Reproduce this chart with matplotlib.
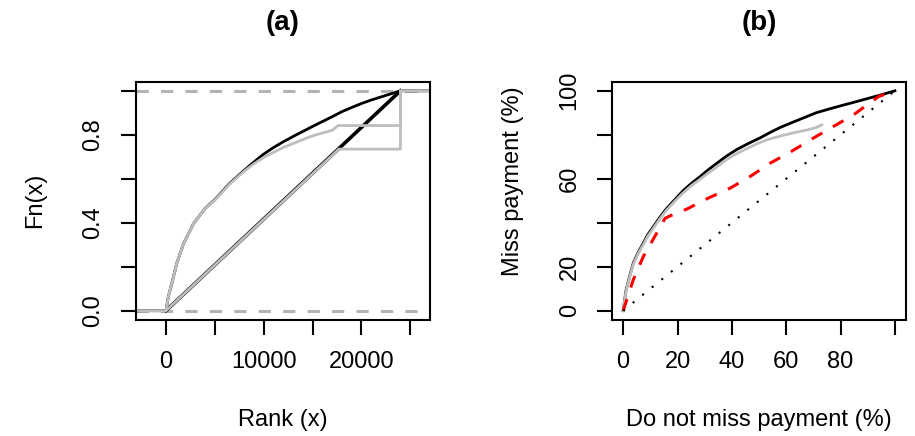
import numpy as np
import matplotlib
matplotlib.use('Agg')
import matplotlib.pyplot as plt

plt.rcParams['font.family'] = ['Liberation Sans', 'DejaVu Sans']

# ---- panel (a): empirical CDFs of rank ----
rank_max = 24000
rank_black = [0, 250, 600, 1100, 1800, 2800, 4000, 5000, 6500, 8000, 9000, 10000, 11000, 12000,
              13000, 14000, 15000, 16000, 17000, 18000, 19000, 20000, 21000, 22000, 23000, 24000]
fn_black = [0, 0.065, 0.125, 0.215, 0.305, 0.395, 0.465, 0.505, 0.578, 0.638, 0.676, 0.712, 0.742, 0.768,
            0.792, 0.815, 0.838, 0.860, 0.882, 0.905, 0.924, 0.942, 0.958, 0.972, 0.986, 1.0]
rank_gray = [0, 250, 600, 1100, 1800, 2800, 4000, 5000, 6500, 8000, 9000, 10000, 11000, 12000,
             13000, 14000, 15000, 16000, 17000, 17636]
fn_gray = [0, 0.065, 0.125, 0.215, 0.305, 0.395, 0.465, 0.503, 0.575, 0.634, 0.668, 0.697, 0.720, 0.742,
           0.760, 0.778, 0.795, 0.808, 0.820, 0.842]
rank_diag_black = [0, 24000]
fn_diag_black = [0, 1.0]
rank_diag_gray = [0, 17700]
fn_diag_gray = [0, 0.735]

# ---- panel (b): ROC-type curves (%) ----
nomiss_black = [0, 1, 2, 3.7, 5.5, 7.4, 9, 11.1, 13.5, 16, 19, 22, 25, 28.3, 31, 34.4, 38, 41.8,
                46, 50.4, 54, 57.7, 62, 66, 71, 76, 81, 85, 90, 95, 100]
miss_black = [0, 9, 14, 21.6, 26.5, 30.7, 34.5, 38.2, 42.5, 46.5, 50.5, 54.5, 57.8, 61, 63.8, 67, 70.3, 73.3,
              76, 78.6, 81, 83.3, 85.5, 87.5, 90, 91.8, 93.5, 94.8, 96.5, 98.2, 100]
nomiss_gray = [0, 1, 2, 3.7, 5.5, 7.4, 9, 11.1, 13.5, 16, 19, 22, 25, 28.3, 31, 34.4, 37.5, 40.5,
               43.5, 46.5, 50, 53, 56, 59, 62, 65, 68, 71, 73.1]
miss_gray = [0, 8.6, 13.6, 21, 26, 30, 33.8, 37.5, 41.8, 45.8, 49.8, 53.5, 56.8, 59.8, 62.3, 65.3, 68.3, 70.6,
             72.5, 74.3, 76.3, 77.7, 78.8, 79.8, 80.7, 81.5, 82.3, 83.3, 84.5]
nomiss_red = [0, 3.7, 7.4, 12.3, 15.4, 17.2, 23.4, 31.3, 39.3, 46.7, 54.1, 62.0, 70.0, 77.4, 84.8, 94.0, 100]
miss_red = [0, 14.0, 24.6, 35.2, 42.0, 43.1, 46.2, 51.2, 55.7, 61.0, 67.1, 72.5, 78.5, 83.8, 89.1, 97.4, 100]
diag = [0, 100]

xticks_a = [0, 5000, 10000, 15000, 20000, 25000]
xlabels_a = ['0', '', '10000', '', '20000', '']
yticks_a = [0, 0.2, 0.4, 0.6, 0.8, 1.0]
ylabels_a = ['0.0', '', '0.4', '', '0.8', '']
ticks_b = [0, 20, 40, 60, 80, 100]
xlabels_b = ['0', '20', '40', '60', '80', '']
ylabels_b = ['0', '20', '', '60', '', '100']

GRAY = '#BEBEBE'
GRAY01 = '#B3B3B3'

fig = plt.figure(figsize=(9.15, 4.36), dpi=100)
ax1 = fig.add_axes([0.1486, 0.2672, 0.3213, 0.5447])
ax2 = fig.add_axes([0.6692, 0.2672, 0.3207, 0.5447])

xlim_a = (-3070, 27020)
ax1.axhline(0, color=GRAY01, lw=2.2, ls=(0, (4, 4)))
ax1.axhline(1, color=GRAY01, lw=2.2, ls=(0, (4, 4)))
# black group
ax1.plot([xlim_a[0]] + rank_black + [xlim_a[1]], [0] + fn_black + [1], color='black', lw=2)
ax1.plot(rank_diag_black, fn_diag_black, color='black', lw=2.6)
# gray group (step to 1 at the last rank)
ax1.plot([xlim_a[0]] + rank_gray + [rank_max, rank_max, xlim_a[1]],
         [0] + fn_gray + [fn_gray[-1], 1, 1], color=GRAY, lw=2)
ax1.plot(rank_diag_gray + [rank_max, rank_max],
         fn_diag_gray + [fn_diag_gray[-1], 1], color=GRAY, lw=2)
ax1.set_xlim(*xlim_a)
ax1.set_ylim(-0.04, 1.04)
ax1.set_xticks(xticks_a, xlabels_a)
ax1.set_yticks(yticks_a, ylabels_a)
ax1.set_title('(a)', fontsize=20, fontweight='bold', y=1.2147, va='center')
ax1.set_xlabel('Rank (x)', fontsize=17)
ax1.set_ylabel('Fn(x)', fontsize=17)
ax1.xaxis.set_label_coords(0.5, -0.423)
ax1.yaxis.set_label_coords(-0.3435, 0.5)

ax2.plot(nomiss_black, miss_black, color='black', lw=2)
ax2.plot(nomiss_gray, miss_gray, color=GRAY, lw=2)
ax2.plot(nomiss_red, miss_red, color='red', lw=2.2, ls=(0, (4, 4)))
ax2.plot(diag, diag, color='black', lw=1.5, ls=(0, (1.0, 4.9)))
ax2.set_xlim(-4, 104)
ax2.set_ylim(-4, 104)
ax2.set_xticks(ticks_b, xlabels_b)
ax2.set_yticks(ticks_b, ylabels_b)
ax2.set_title('(b)', fontsize=20, fontweight='bold', y=1.2147, va='center')
ax2.set_xlabel('Do not miss payment (%)', fontsize=17)
ax2.set_ylabel('Miss payment (%)', fontsize=17)
ax2.xaxis.set_label_coords(0.5, -0.423)
ax2.yaxis.set_label_coords(-0.3374, 0.584)

for ax in (ax1, ax2):
    for s in ax.spines.values():
        s.set_linewidth(1.5)
    ax.tick_params(direction='out', length=10.8, width=1.5, labelsize=17, pad=12)
    ax.tick_params(axis='y', labelrotation=90)
    for lab in ax.get_yticklabels():
        lab.set_va('center')
    ax.xaxis.label.set_va('center')
    ax.yaxis.label.set_va('center')

fig.savefig('out.png', dpi=100)
